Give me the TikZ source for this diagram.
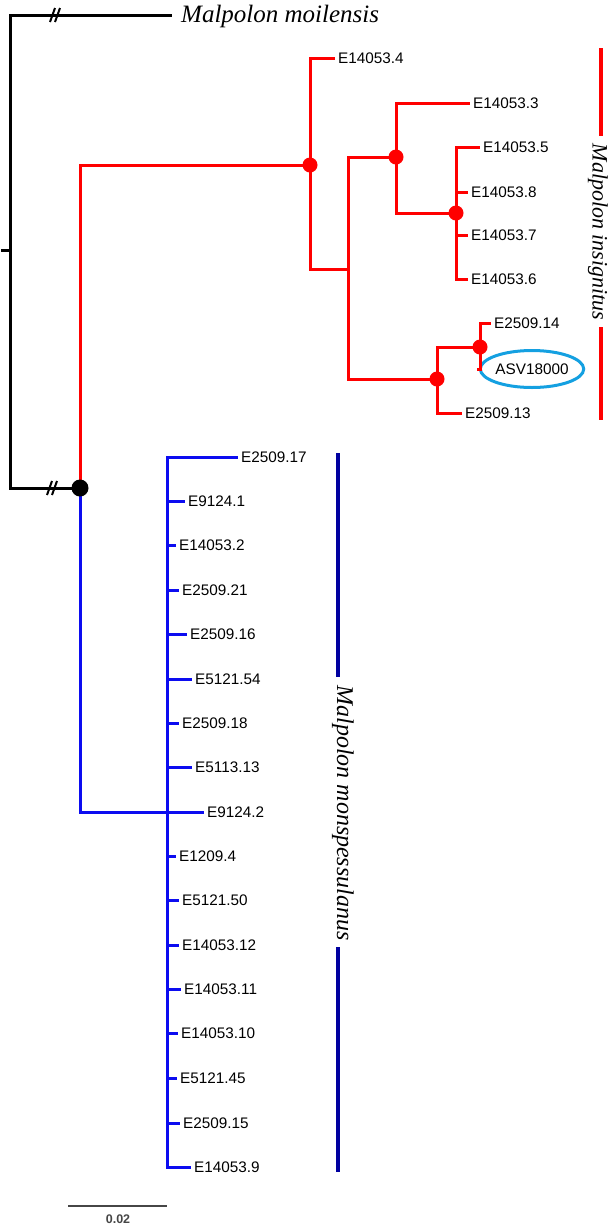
\documentclass[tikz,border=0pt]{standalone}
\usepackage{fontspec}
\setmainfont{Liberation Serif}
\newfontfamily\arialf{Liberation Sans}
\usetikzlibrary{shapes.geometric}
\definecolor{tred}{RGB}{255,0,0}
\definecolor{tblue}{RGB}{12,12,240}
\definecolor{tnavy}{RGB}{0,0,160}
\definecolor{tcyan}{RGB}{20,160,225}
\definecolor{tgray}{RGB}{70,70,70}
\begin{document}
\begin{tikzpicture}[x=1pt,y=-1pt,
  br/.style={line width=3pt,line cap=rect},
  redbr/.style={br,draw=tred},
  bluebr/.style={br,draw=tblue},
  blackbr/.style={br,draw=black},
  leaf/.style={anchor=west,inner xsep=5pt,inner ysep=0pt,font=\arialf\fontsize{15.3}{18}\selectfont},
  rdot/.style={circle,fill=tred,inner sep=0pt,minimum size=15pt},
  kdot/.style={circle,fill=black,inner sep=0pt,minimum size=17pt},
  brk/.style={line width=2pt,draw=black},
  clade/.style={font=\itshape,inner sep=0pt,rotate=-90}]
\useasboundingbox (0,0) rectangle (611,1227);

% ---------- black part ----------
\coordinate (stem) at (2,250);
\coordinate (root) at (10,250);
\coordinate (moilend) at (170,15);
\coordinate (mA) at (80,488);
\node[anchor=west,inner sep=0pt,font=\fontsize{25}{30}\selectfont\itshape] (moil) at (181,16) {Malpolon moilensis};
\draw[blackbr] (stem) -- (root);
\draw[blackbr] (root) |- (moilend);
\draw[blackbr] (root) |- (mA);
\coordinate (brk1) at (55,15);
\coordinate (brk2) at (52,488);
\draw[brk] (brk1) ++(-5,7) -- ++(5,-14);
\draw[brk] (brk1) ++(0,7) -- ++(5,-14);
\draw[brk] (brk2) ++(-5,7) -- ++(5,-14);
\draw[brk] (brk2) ++(0,7) -- ++(5,-14);

% ---------- red clade ----------
\coordinate (rA) at (310,165);
\coordinate (rB) at (348,269);
\coordinate (rC) at (396,157);
\coordinate (rD) at (456,213);
\coordinate (rE) at (437,379);
\coordinate (rF) at (480,347);

\node[leaf] (a4) at (333,58) {E14053.4};
\node[leaf] (a3) at (468,103) {E14053.3};
\node[leaf] (a5) at (478,147) {E14053.5};
\node[leaf] (a8) at (466,192) {E14053.8};
\node[leaf] (a7) at (466,235) {E14053.7};
\node[leaf] (a6) at (466,279) {E14053.6};
\node[leaf] (a14) at (489,323) {E2509.14};
\node[ellipse,draw=tcyan,line width=3pt,minimum width=88pt,minimum height=37pt,inner sep=0pt,font=\arialf\fontsize{15.3}{18}\selectfont] (asv) at (532,369) {ASV18000};
\node[leaf] (a13) at (460,413) {E2509.13};

\draw[redbr] (mA) |- (rA);
\draw[redbr] (rA) |- (a4.west);
\draw[redbr] (rA) |- (rB);
\draw[redbr] (rB) |- (rC);
\draw[redbr] (rB) |- (rE);
\draw[redbr] (rC) |- (a3.west);
\draw[redbr] (rC) |- (rD);
\draw[redbr] (rD) |- (a5.west);
\draw[redbr] (rD) |- (a8.west);
\draw[redbr] (rD) |- (a7.west);
\draw[redbr] (rD) |- (a6.west);
\draw[redbr] (rE) |- (rF);
\draw[redbr] (rE) |- (a13.west);
\draw[redbr] (rF) |- (a14.west);
\draw[redbr] (rF) |- (asv.west);

\node[rdot] at (rA) {};
\node[rdot] at (rC) {};
\node[rdot] at (rD) {};
\node[rdot] at (rE) {};
\node[rdot] at (rF) {};

% ---------- blue clade ----------
\coordinate (bA) at (167,812);
\node[leaf] (b1) at (236,457) {E2509.17};
\node[leaf] (b2) at (183,501) {E9124.1};
\node[leaf] (b3) at (174,545) {E14053.2};
\node[leaf] (b4) at (177,590) {E2509.21};
\node[leaf] (b5) at (185,634) {E2509.16};
\node[leaf] (b6) at (190,679) {E5121.54};
\node[leaf] (b7) at (177,723) {E2509.18};
\node[leaf] (b8) at (190,767) {E5113.13};
\node[leaf] (b9) at (202,812) {E9124.2};
\node[leaf] (b10) at (174,856) {E1209.4};
\node[leaf] (b11) at (177,900) {E5121.50};
\node[leaf] (b12) at (177,945) {E14053.12};
\node[leaf] (b13) at (179,989) {E14053.11};
\node[leaf] (b14) at (176,1033) {E14053.10};
\node[leaf] (b15) at (175,1078) {E5121.45};
\node[leaf] (b16) at (178,1123) {E2509.15};
\node[leaf] (b17) at (189,1167) {E14053.9};

\draw[bluebr] (mA) |- (bA);
\foreach \n in {1,...,17}{\draw[bluebr] (bA) |- (b\n.west);}

\node[kdot] at (mA) {};

% ---------- clade bars ----------
\coordinate (rbar1) at (601,48);
\coordinate (rbar2) at (601,136);
\coordinate (rbar3) at (601,327);
\coordinate (rbar4) at (601,420);
\draw[line width=4pt,tred] (rbar1) -- (rbar2);
\draw[line width=4pt,tred] (rbar3) -- (rbar4);
\node[clade,font=\fontsize{22}{26}\selectfont\itshape] (insig) at (598,232) {Malpolon insignitus};

\coordinate (nbar1) at (338,453);
\coordinate (nbar2) at (338,677);
\coordinate (nbar3) at (338,947);
\coordinate (nbar4) at (338,1172);
\draw[line width=4pt,tnavy] (nbar1) -- (nbar2);
\draw[line width=4pt,tnavy] (nbar3) -- (nbar4);
\node[clade,font=\fontsize{24}{28}\selectfont\itshape] (monsp) at (343,813) {Malpolon monspessulanus};

% ---------- scale bar ----------
\coordinate (sb1) at (68,1206);
\coordinate (sb2) at (167,1206);
\draw[line width=1.3pt,tgray] (sb1) -- (sb2);
\node[font=\arialf\bfseries\fontsize{12.5}{14}\selectfont,text=tgray,inner sep=0pt] (sbl) at (118,1219) {0.02};
\end{tikzpicture}
\end{document}
